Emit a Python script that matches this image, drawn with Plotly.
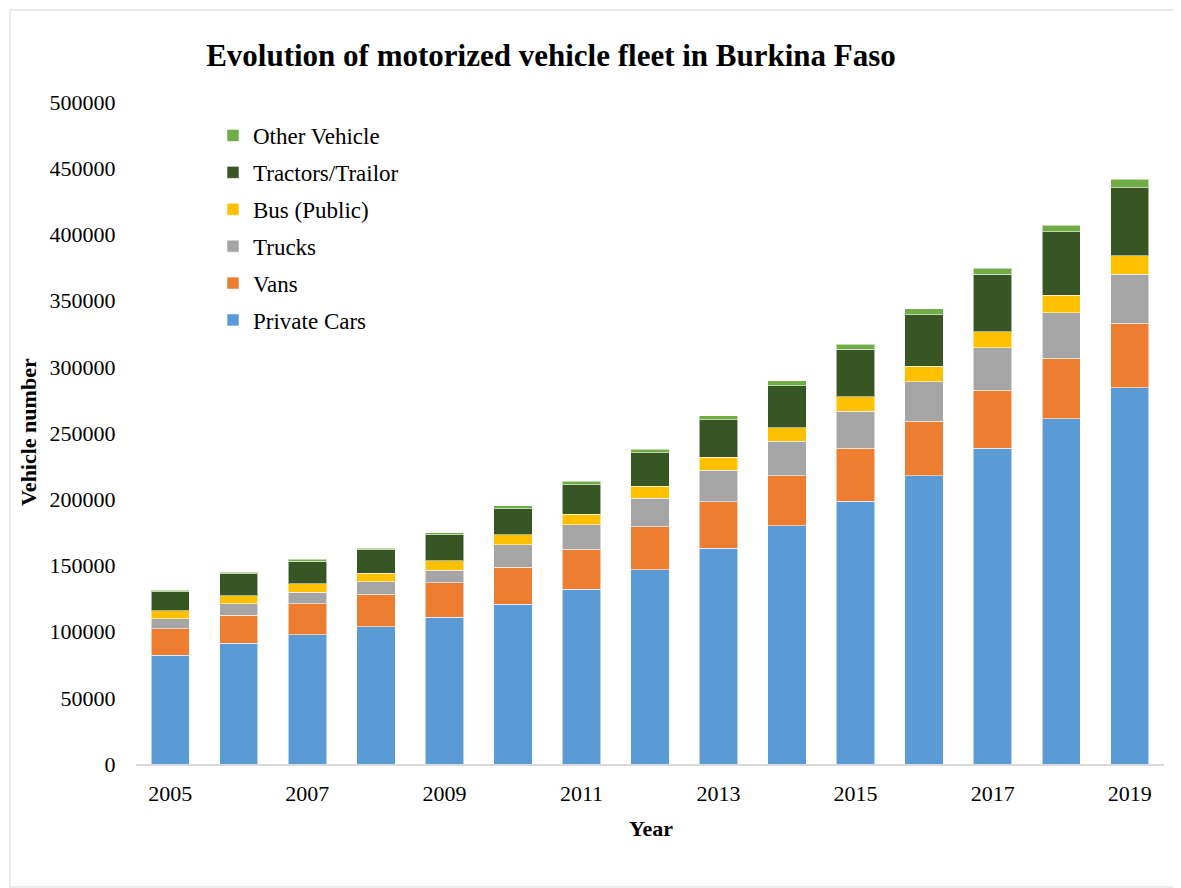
import plotly.graph_objects as go

years = [str(y) for y in range(2005, 2020)]
tick_years = ["2005", "2007", "2009", "2011", "2013", "2015", "2017", "2019"]

private_cars = [82300, 91100, 97700, 103700, 111000, 120600, 131900, 146800, 162900, 180000, 198600, 217700, 238400, 260600, 284200]
vans = [19700, 21400, 23400, 24700, 25900, 27900, 30200, 32400, 35200, 37700, 39800, 41100, 43800, 45800, 48700]
trucks = [7700, 8600, 8600, 9100, 9600, 17100, 18600, 21700, 23700, 26000, 28000, 30000, 32200, 34500, 37000]
bus_public = [5900, 6000, 6500, 6500, 7000, 7400, 8100, 8800, 9800, 10300, 10800, 11600, 12100, 13100, 14000]
tractors = [14500, 16600, 17100, 17900, 19500, 19800, 22200, 25400, 28400, 31700, 36000, 39000, 43400, 48000, 51400]
other = [1100, 1100, 1300, 1200, 1500, 2100, 2500, 2600, 3000, 3600, 3800, 4300, 4700, 5100, 6300]

series = [
    ("Private Cars", private_cars, "#5B9BD5"),
    ("Vans", vans, "#ED7D31"),
    ("Trucks", trucks, "#A5A5A5"),
    ("Bus (Public)", bus_public, "#FFC000"),
    ("Tractors/Trailor", tractors, "#375623"),
    ("Other Vehicle", other, "#70AD47"),
]

FONT = "Liberation Serif, Times New Roman, serif"

fig = go.Figure()
for i, (name, vals, color) in enumerate(series):
    fig.add_trace(go.Bar(
        x=years, y=vals, name=name, legendgroup=name, legendrank=1000 - 10 * i,
        marker=dict(color=color, line=dict(color="rgba(255,255,255,0.55)", width=1)),
    ))

# page has an 8px body margin; coordinates below are figure pixels
W, H = 1173, 880
L, R, T, B = 128, 1156, 94, 756
def px(xp):
    return (xp - L) / (R - L)
def py(yp):
    return (B - yp) / (B - T)

fig.update_layout(
    width=W, height=H,
    margin=dict(l=L, r=W - R, t=T, b=H - B, autoexpand=False),
    paper_bgcolor="white", plot_bgcolor="white",
    barmode="stack", bargap=0.44,
    font=dict(family=FONT, size=22, color="black"),
    title=dict(text="<b>Evolution of motorized vehicle fleet in Burkina Faso</b>",
               font=dict(family=FONT, size=31, color="black"),
               x=543 / W, xanchor="center", y=1 - 47 / H, yanchor="middle"),
    legend=dict(traceorder="grouped", tracegroupgap=4,
                x=px(205), xanchor="left", y=py(106), yanchor="top",
                bgcolor="rgba(0,0,0,0)", font=dict(family=FONT, size=23)),
    xaxis=dict(type="category", tickmode="array", tickvals=tick_years, ticktext=tick_years,
               showline=True, linecolor="#D9D9D9", linewidth=1.5, showgrid=False,
               ticks="outside", ticklen=9, tickcolor="rgba(0,0,0,0)",
               tickfont=dict(family=FONT, size=22)),
    yaxis=dict(range=[0, 500000], tickmode="linear", tick0=0, dtick=50000,
               showline=False, showgrid=False, zeroline=False,
               ticks="outside", ticklen=15, tickcolor="rgba(0,0,0,0)",
               tickformat="d", tickfont=dict(family=FONT, size=22)),
    showlegend=True,
)

fig.add_annotation(text="<b>Year</b>", x=px(643), y=py(820), xref="paper", yref="paper",
                   showarrow=False, font=dict(family=FONT, size=22), xanchor="center", yanchor="middle")
fig.add_annotation(text="<b>Vehicle number</b>", x=px(20), y=py(424), xref="paper", yref="paper",
                   showarrow=False, textangle=-90, font=dict(family=FONT, size=22),
                   xanchor="center", yanchor="middle")

fig.add_shape(type="rect", xref="paper", yref="paper",
              x0=px(2), x1=px(1172), y0=py(879), y1=py(2),
              line=dict(color="#D9D9D9", width=1), fillcolor="rgba(0,0,0,0)", layer="below")

fig.write_html("out.html")
